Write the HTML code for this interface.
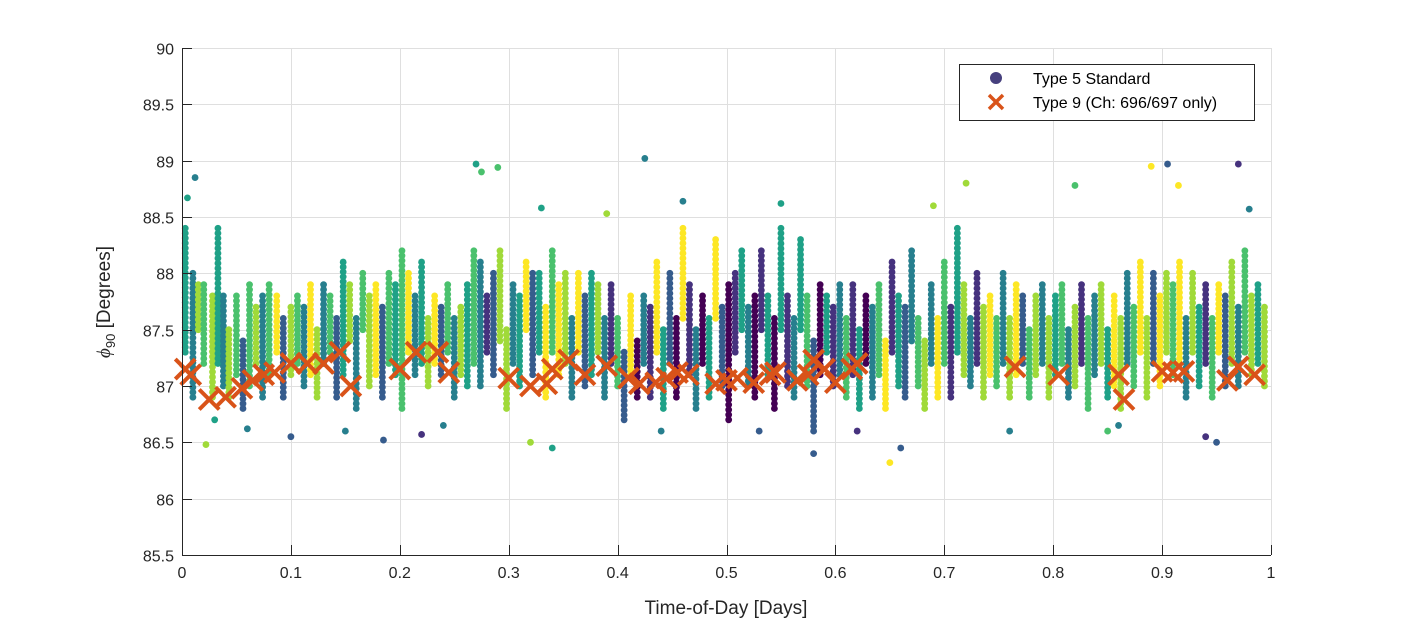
<!DOCTYPE html>
<html><head><meta charset="utf-8"><style>
html,body{margin:0;padding:0;background:#fff;}
svg{display:block;font-family:"Liberation Sans",Arial,sans-serif;}
</style></head><body>
<svg id="chart" width="1406" height="625" viewBox="0 0 1406 625">
<rect x="0" y="0" width="1406" height="625" fill="#fff"/>
<g id="grid"></g>
<g id="marks"></g>
<g id="xmarks"></g>
<g id="axes"></g>
<text x="726" y="614" font-size="19" fill="#262626" text-anchor="middle">Time-of-Day [Days]</text>
<text transform="translate(110,302) rotate(-90)" font-size="19" fill="#262626" text-anchor="middle"><tspan font-family="Liberation Serif" font-style="italic">ϕ</tspan><tspan font-size="13" dy="5">90</tspan><tspan dy="-5"> [Degrees]</tspan></text>
<g>
<rect x="959.5" y="64.5" width="295" height="56" fill="#fff" stroke="#262626" stroke-width="1"/>
<circle cx="996" cy="78" r="6" fill="#46407e"/>
<text x="1033" y="84" font-size="16" fill="#000">Type 5 Standard</text>
<path d="M989 95 L1003 109 M1003 95 L989 109" stroke="#d95319" stroke-width="3.5"/>
<text x="1033" y="108" font-size="16" fill="#000">Type 9 (Ch: 696/697 only)</text>
</g>
</svg>
<script>
const xTicks=[0,0.1,0.2,0.3,0.4,0.5,0.6,0.7,0.8,0.9,1];
const xTickLabels=["0","0.1","0.2","0.3","0.4","0.5","0.6","0.7","0.8","0.9","1"];
const yTicks=[85.5,86,86.5,87,87.5,88,88.5,89,89.5,90];
const yTickLabels=["85.5","86","86.5","87","87.5","88","88.5","89","89.5","90"];
const palette=["#440154","#46327e","#365c8d","#277f8e","#1fa187","#4ac16d","#a0da39","#fde725"];
const streakX=[0.003,0.01,0.015,0.02,0.028,0.033,0.038,0.043,0.05,0.056,0.062,0.068,0.074,0.08,0.087,0.093,0.1,0.106,0.112,0.118,0.124,0.13,0.136,0.142,0.148,0.154,0.16,0.166,0.172,0.178,0.184,0.19,0.196,0.202,0.208,0.214,0.22,0.226,0.232,0.238,0.244,0.25,0.256,0.262,0.268,0.274,0.28,0.286,0.292,0.298,0.304,0.31,0.316,0.322,0.328,0.334,0.34,0.346,0.352,0.358,0.364,0.37,0.376,0.382,0.388,0.394,0.4,0.406,0.412,0.418,0.424,0.43,0.436,0.442,0.448,0.454,0.46,0.466,0.472,0.478,0.484,0.49,0.496,0.502,0.508,0.514,0.52,0.526,0.532,0.538,0.544,0.55,0.556,0.562,0.568,0.574,0.58,0.586,0.592,0.598,0.604,0.61,0.616,0.622,0.628,0.634,0.64,0.646,0.652,0.658,0.664,0.67,0.676,0.682,0.688,0.694,0.7,0.706,0.712,0.718,0.724,0.73,0.736,0.742,0.748,0.754,0.76,0.766,0.772,0.778,0.784,0.79,0.796,0.802,0.808,0.814,0.82,0.826,0.832,0.838,0.844,0.85,0.856,0.862,0.868,0.874,0.88,0.886,0.892,0.898,0.904,0.91,0.916,0.922,0.928,0.934,0.94,0.946,0.952,0.958,0.964,0.97,0.976,0.982,0.988,0.994];
const streakLo=[87.3,86.9,87.5,87.2,86.9,87.2,87.0,86.9,87.1,86.8,87.0,87.2,86.9,87.1,87.3,86.9,87.1,87.2,87.0,87.1,86.9,87.2,87.3,86.9,87.1,87.4,86.8,87.5,87.0,87.1,86.9,87.2,87.1,86.8,87.3,87.1,87.2,87.0,87.2,87.1,87.3,86.9,87.1,87.0,87.2,87.0,87.3,87.1,87.4,86.8,87.2,87.0,87.5,87.1,87.3,86.9,87.3,87.1,87.2,86.9,87.3,87.0,87.1,87.3,86.9,87.2,87.0,86.7,87.1,86.9,87.2,86.9,87.3,86.8,87.2,86.9,87.6,87.1,86.8,87.2,86.9,87.6,87.0,86.7,87.3,87.5,87.0,86.9,87.5,87.1,86.8,87.5,87.0,86.9,87.5,87.0,86.6,87.1,87.3,87.0,87.1,86.9,87.1,86.8,87.2,86.9,87.1,86.8,87.3,87.0,86.9,87.4,87.0,86.8,87.2,86.9,87.2,86.9,87.3,87.1,87.0,87.2,86.9,87.1,87.0,87.2,86.9,87.1,87.2,86.9,87.1,87.2,86.9,87.1,87.2,86.9,87.0,87.2,86.8,87.1,87.2,86.9,87.0,86.8,87.2,87.0,87.3,86.9,87.2,87.0,87.3,87.1,87.2,86.9,87.3,87.0,87.2,86.9,87.3,87.0,87.2,87.0,87.3,87.1,87.2,87.0];
const streakHi=[88.4,88.0,87.9,87.9,87.8,88.4,87.8,87.5,87.8,87.4,87.9,87.7,87.8,87.9,87.8,87.6,87.7,87.8,87.7,87.9,87.5,87.9,87.8,87.6,88.1,87.9,87.6,88.0,87.8,87.9,87.7,88.0,87.9,88.2,88.0,87.8,88.1,87.6,87.8,87.7,87.9,87.6,87.7,87.9,88.2,88.1,87.8,88.0,88.2,87.5,87.9,87.8,88.1,88.0,88.0,87.7,88.2,87.9,88.0,87.6,88.0,87.8,88.0,87.9,87.6,87.9,87.6,87.3,87.8,87.4,87.8,87.7,88.1,87.5,88.0,87.6,88.4,87.9,87.5,87.8,87.6,88.3,87.7,87.9,88.0,88.2,87.7,87.8,88.2,87.8,87.6,88.4,87.8,87.6,88.3,87.8,87.4,87.9,87.8,87.7,87.9,87.6,87.9,87.5,87.8,87.7,87.9,87.4,88.1,87.8,87.7,88.2,87.6,87.4,87.9,87.6,88.1,87.7,88.4,87.9,87.6,88.0,87.7,87.8,87.6,88.0,87.6,87.9,87.8,87.5,87.8,87.9,87.6,87.8,87.9,87.5,87.7,87.9,87.6,87.8,87.9,87.5,87.8,87.6,88.0,87.7,88.1,87.6,88.0,87.8,88.0,87.9,88.1,87.6,88.0,87.7,87.9,87.6,87.9,87.8,88.1,87.7,88.2,87.8,87.9,87.7];
const streakColor=[4,3,6,5,6,4,3,6,5,2,5,6,3,5,7,2,6,5,3,7,6,3,5,2,4,6,3,5,6,7,2,5,4,5,7,3,4,6,7,2,5,3,6,4,5,3,1,2,6,6,3,4,7,2,4,7,5,7,6,3,7,2,4,6,3,1,5,2,7,0,3,1,7,4,2,0,7,1,3,0,4,7,2,0,1,4,3,0,1,4,0,4,1,3,4,5,2,0,4,1,3,5,1,4,0,3,5,7,1,4,2,3,5,6,3,7,5,1,4,6,3,1,6,7,5,3,6,7,2,5,6,3,6,4,5,3,6,1,5,3,6,4,7,6,3,5,7,6,2,7,6,5,7,3,6,4,1,5,7,2,6,3,5,6,4,6];
const outX=[0.005,0.012,0.022,0.06,0.1,0.15,0.185,0.22,0.24,0.27,0.275,0.29,0.33,0.34,0.39,0.425,0.44,0.46,0.53,0.55,0.58,0.62,0.65,0.69,0.72,0.76,0.82,0.85,0.89,0.905,0.915,0.95,0.97,0.98,0.03,0.32,0.66,0.86,0.94];
const outY=[88.67,88.85,86.48,86.62,86.55,86.6,86.52,86.57,86.65,88.97,88.9,88.94,88.58,86.45,88.53,89.02,86.6,88.64,86.6,88.62,86.4,86.6,86.32,88.6,88.8,86.6,88.78,86.6,88.95,88.97,88.78,86.5,88.97,88.57,86.7,86.5,86.45,86.65,86.55];
const outColor=[4,3,6,3,2,3,2,1,3,4,5,5,4,4,6,3,3,3,2,4,2,1,7,6,6,3,5,5,7,2,7,2,1,3,4,6,2,3,1];
const t9X=[0.003,0.008,0.025,0.04,0.055,0.065,0.075,0.085,0.1,0.115,0.13,0.145,0.155,0.2,0.215,0.235,0.245,0.3,0.32,0.335,0.34,0.355,0.37,0.39,0.41,0.42,0.435,0.445,0.455,0.465,0.49,0.5,0.51,0.525,0.54,0.545,0.565,0.575,0.58,0.59,0.6,0.615,0.62,0.765,0.805,0.86,0.865,0.9,0.91,0.92,0.96,0.97,0.985];
const t9Y=[87.15,87.1,86.88,86.9,86.98,87.05,87.1,87.12,87.2,87.2,87.2,87.3,87.0,87.15,87.3,87.3,87.12,87.07,87.0,87.02,87.15,87.23,87.1,87.18,87.07,87.02,87.03,87.07,87.12,87.1,87.02,87.05,87.07,87.03,87.1,87.12,87.05,87.1,87.23,87.15,87.03,87.15,87.2,87.17,87.1,87.1,86.88,87.13,87.12,87.13,87.05,87.17,87.1];

const X0=182,X1=1271,Y0=555,Y1=48;
function sx(v){return X0+(v-0)/(1-0)*(X1-X0);}
function sy(v){return Y0-(v-85.5)/(90-85.5)*(Y0-Y1);}
const NS="http://www.w3.org/2000/svg";
function mk(tag,parent,attrs){const e=document.createElementNS(NS,tag);for(const k in attrs)e.setAttribute(k,attrs[k]);parent.appendChild(e);return e;}
const grid=document.getElementById('grid'),axes=document.getElementById('axes'),marks=document.getElementById('marks'),xm=document.getElementById('xmarks');
xTicks.forEach((t,i)=>{const x=Math.round(sx(t))+0.5;
 const g=mk('line',grid,{x1:x,x2:x,y1:Y1,y2:Y0,stroke:'#dfdfdf','stroke-width':1});
 
 
 const tk=mk('line',axes,{x1:x,x2:x,y1:Y0,y2:Y0-10,stroke:'#262626','stroke-width':1});
 
 
 const l=mk('text',axes,{x:sx(t),y:Y0+23,'font-size':16,fill:'#262626','text-anchor':'middle'});l.textContent=xTickLabels[i];
 
 
});
yTicks.forEach((t,i)=>{const y=Math.round(sy(t))+0.5;
 const g=mk('line',grid,{x1:X0,x2:X1,y1:y,y2:y,stroke:'#dfdfdf','stroke-width':1});
 
 
 const tk=mk('line',axes,{x1:X0,x2:X0+10,y1:y,y2:y,stroke:'#262626','stroke-width':1});
 
 
 const l=mk('text',axes,{x:X0-8,y:y+6,'font-size':16,fill:'#262626','text-anchor':'end'});l.textContent=yTickLabels[i];
 
 
});
const ax1=mk('line',axes,{x1:X0+0.5,x2:X0+0.5,y1:Y1,y2:Y0,stroke:'#262626','stroke-width':1});


const ax2=mk('line',axes,{x1:X0,x2:X1,y1:Y0+0.5,y2:Y0+0.5,stroke:'#262626','stroke-width':1});


streakX.forEach((t,i)=>{const x=sx(t),ya=sy(streakHi[i]),yb=sy(streakLo[i]);
 const n=Math.max(1,Math.round((yb-ya)/5));
 for(let k=0;k<=n;k++){const c=mk('circle',marks,{cx:x,cy:ya+(yb-ya)*k/n,r:3.4,fill:palette[streakColor[i]]});
  
  }
});
outX.forEach((t,i)=>{const c=mk('circle',marks,{cx:sx(t),cy:sy(outY[i]),r:3.4,fill:palette[outColor[i]]});
 
 });
t9X.forEach((t,i)=>{const x=sx(t),y=sy(t9Y[i]),s=10;
 const p=mk('path',xm,{d:`M${x-s} ${y-s}L${x+s} ${y+s}M${x+s} ${y-s}L${x-s} ${y+s}`,stroke:'#d95319','stroke-width':4});
 
 });
</script>
</body></html>
